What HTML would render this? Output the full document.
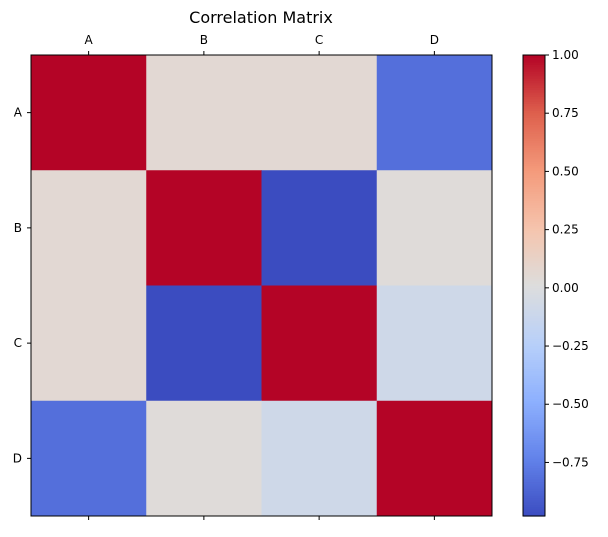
<!DOCTYPE html>
<html><head><meta charset="utf-8"><style>
body{margin:0;background:#fff;font-family:"Liberation Sans","DejaVu Sans",sans-serif}
</style></head><body>
<svg id="chart" width="608" height="532" xmlns="http://www.w3.org/2000/svg" font-family="DejaVu Sans, Liberation Sans, sans-serif">
<text x="261" y="23" text-anchor="middle" font-size="16">Correlation Matrix</text>
<g id="cells"></g><g id="axes"></g><g id="cbar"></g>
</svg>
<script>
const labels = ["A","B","C","D"];
const rowA = [1.00, 0.06, 0.06, -0.82];
const rowB = [0.06, 1.00, -0.98, 0.03];
const rowC = [0.06, -0.98, 1.00, -0.09];
const rowD = [-0.82, 0.03, -0.09, 1.00];
const matrix = [rowA,rowB,rowC,rowD];
const cbTicks = [1.00,0.75,0.50,0.25,0.00,-0.25,-0.50,-0.75];
const cbTickLabels = ["1.00","0.75","0.50","0.25","0.00","\u22120.25","\u22120.50","\u22120.75"];
const NS="http://www.w3.org/2000/svg";
const cm=[[59,76,192],[98,130,234],[141,176,254],[184,208,249],[221,221,221],[245,196,173],[244,154,123],[222,96,77],[180,4,38]];
const vmin=Math.min(...matrix.flat()), vmax=Math.max(...matrix.flat());
function color(v){let t=(v-vmin)/(vmax-vmin);t=Math.max(0,Math.min(1,t));const p=t*8,i=Math.min(7,Math.floor(p)),f=p-i;
const c=cm[i].map((a,k)=>Math.round(a+(cm[i+1][k]-a)*f));return `rgb(${c})`;}
const X0=31,X1=492,Y0=55,Y1=516,n=labels.length,cw=(X1-X0)/n,ch=(Y1-Y0)/n;
function el(t,a,p){const e=document.createElementNS(NS,t);for(const k in a)e.setAttribute(k,a[k]);p.appendChild(e);return e;}
const cells=document.getElementById('cells'),axes=document.getElementById('axes'),cb=document.getElementById('cbar');
matrix.forEach((row,r)=>row.forEach((v,c)=>{
 const e=el('rect',{x:X0+c*cw,y:Y0+r*ch,width:cw+0.5,height:ch+0.5,fill:color(v)},cells);
 
 
}));
el('rect',{x:X0,y:Y0,width:X1-X0,height:Y1-Y0,fill:'none',stroke:'#000','stroke-width':1},axes);
labels.forEach((l,i)=>{
 const cx=X0+(i+.5)*cw, cy=Y0+(i+.5)*ch;
 el('line',{x1:cx,x2:cx,y1:Y0,y2:Y0-4,stroke:'#000'},axes);
 el('line',{x1:cx,x2:cx,y1:Y1,y2:Y1+4,stroke:'#000'},axes);
 el('line',{x1:X0,x2:X0-4,y1:cy,y2:cy,stroke:'#000'},axes);
 const t=el('text',{x:cx,y:Y0-11,'text-anchor':'middle','font-size':12},axes);t.textContent=l;
 
 
 const t2=el('text',{x:X0-9,y:cy+4,'text-anchor':'end','font-size':12},axes);t2.textContent=l;
 
 
});
const CX0=523,CX1=545;
const cy=v=>Y0+(vmax-v)/(vmax-vmin)*(Y1-Y0);
for(let k=0;k<200;k++){const v=vmin+(vmax-vmin)*k/200,v2=vmin+(vmax-vmin)*(k+1)/200;
 el('rect',{x:CX0,y:cy(v2),width:CX1-CX0,height:cy(v)-cy(v2)+0.6,fill:color((v+v2)/2)},cb);}
const cbf=el('rect',{x:CX0,y:Y0,width:CX1-CX0,height:Y1-Y0,fill:'none',stroke:'#000'},cb);


cbTicks.forEach((v,i)=>{const y=cy(v);
 el('line',{x1:CX1,x2:CX1+4,y1:y,y2:y,stroke:'#000'},cb);
 const t=el('text',{x:CX1+7,y:y+4,'font-size':12},cb);t.textContent=cbTickLabels[i];
 
 
});
</script>
</body></html>
